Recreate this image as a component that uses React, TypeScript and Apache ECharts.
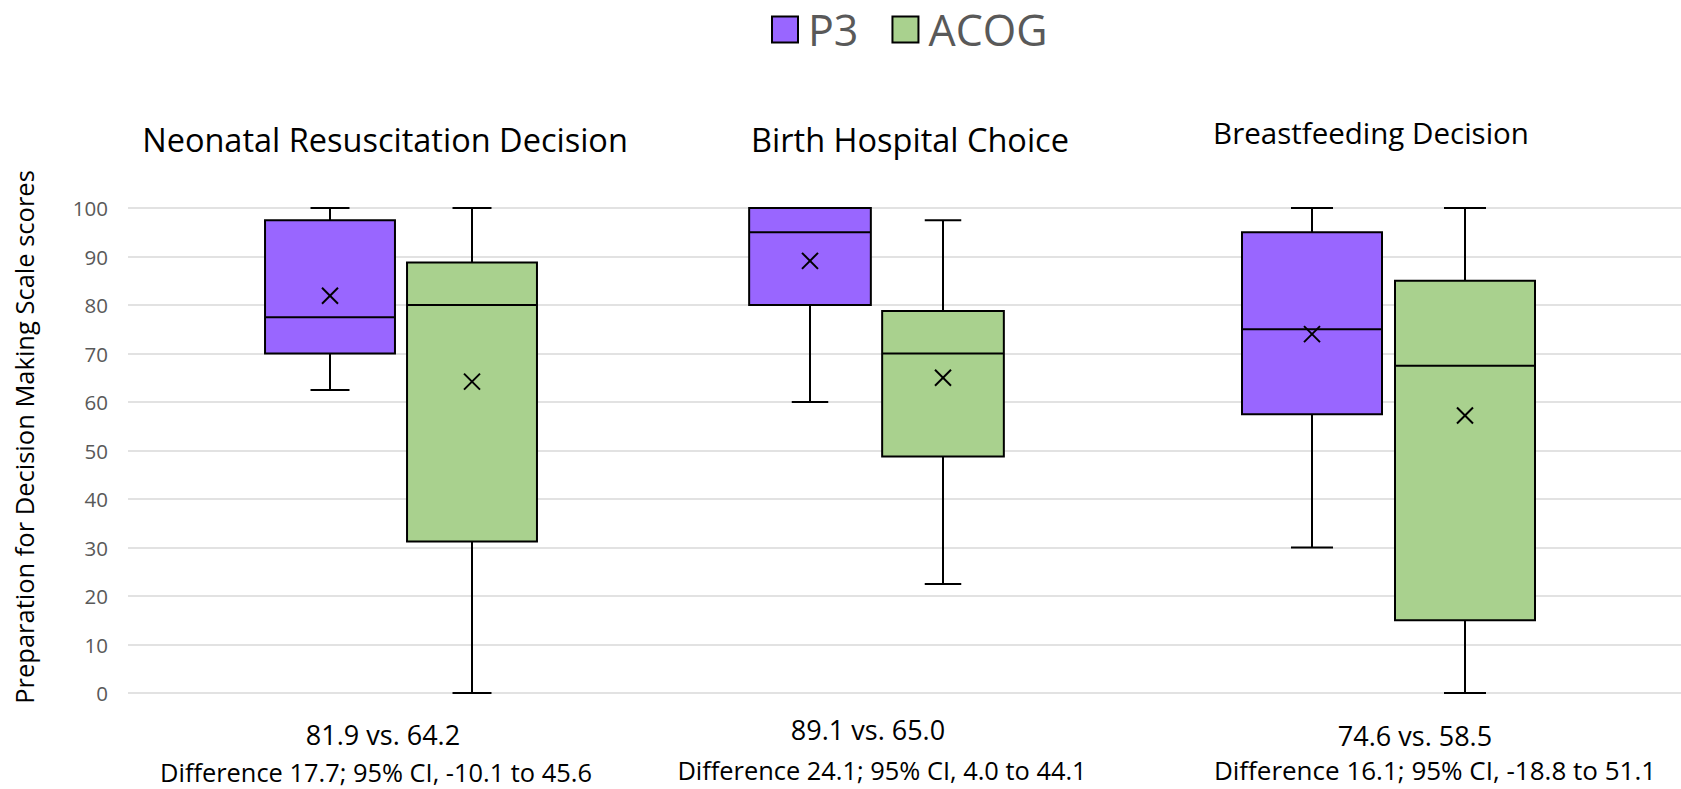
import React, { useEffect, useRef } from 'react';
import * as echarts from 'echarts';

// ---------- data ----------
const categories = ['Neonatal Resuscitation Decision', 'Birth Hospital Choice', 'Breastfeeding Decision'];
const seriesNames = ['P3', 'ACOG'];
// [low whisker, Q1, median, Q3, high whisker]
const p3Box = [
  [62.5, 70, 77.5, 97.5, 100],
  [60, 80, 95, 100, 100],
  [30, 57.5, 75, 95, 100],
];
const acogBox = [
  [0, 31.25, 80, 88.75, 100],
  [22.5, 48.75, 70, 78.75, 97.5],
  [0, 15, 67.5, 85, 100],
];
// mean markers as drawn
const p3MeanMarker = [81.9, 89.1, 74.0];
const acogMeanMarker = [64.2, 65.0, 57.2];
// reported statistics
const p3Mean = [81.9, 89.1, 74.6];
const acogMean = [64.2, 65.0, 58.5];
const difference = [17.7, 24.1, 16.1];
const ciLow = [-10.1, 4.0, -18.8];
const ciHigh = [45.6, 44.1, 51.1];
const yMin = 0;
const yMax = 100;
const yInterval = 10;
const yAxisTitle = 'Preparation for Decision Making Scale scores';

// ---------- style / layout ----------
const COLORS = ['#9966FF', '#A9D18E'];
const FONT = '"Open Sans", "Noto Sans", sans-serif';
const GRID_TOP = 208;
const GRID_BOTTOM = 96;
const groupGrids = [
  { left: 259, width: 284 },
  { left: 743.5, width: 266 },
  { left: 1235.5, width: 306 },
];
const titlePos = [[385, 139], [910, 139], [1371, 132]];
const titleSize = [32.5, 32.5, 29.5];
const line1Pos = [[383, 734], [868, 729], [1415, 735]];
const line2Pos = [[376, 772], [882, 770], [1435, 770]];
const line2Size = [25.4, 25.4, 26];
const BOX_RATIO = 0.915;
const CAP_RATIO = 0.3;
const MARK = 8;

function renderBox(params: any, api: any) {
  const x = api.value(0);
  const y = (i: number) => api.coord([x, api.value(i)])[1];
  const cx = api.coord([x, api.value(1)])[0];
  const yLow = y(1), yQ1 = y(2), yMed = y(3), yQ3 = y(4), yHigh = y(5), yMean = y(6);
  const band = api.size([1, 0])[0];
  const bw = band * BOX_RATIO;
  const cap = bw * CAP_RATIO;
  const color = api.visual('color');
  const ls = { stroke: '#000', lineWidth: 2 };
  return {
    type: 'group',
    children: [
      { type: 'line', shape: { x1: cx, y1: yHigh, x2: cx, y2: yQ3 }, style: ls },
      { type: 'line', shape: { x1: cx, y1: yQ1, x2: cx, y2: yLow }, style: ls },
      { type: 'line', shape: { x1: cx - cap / 2, y1: yHigh, x2: cx + cap / 2, y2: yHigh }, style: ls },
      { type: 'line', shape: { x1: cx - cap / 2, y1: yLow, x2: cx + cap / 2, y2: yLow }, style: ls },
      {
        type: 'rect',
        shape: { x: cx - bw / 2, y: yQ3, width: bw, height: yQ1 - yQ3 },
        style: { fill: color, stroke: '#000', lineWidth: 2 },
      },
      { type: 'line', shape: { x1: cx - bw / 2, y1: yMed, x2: cx + bw / 2, y2: yMed }, style: ls },
      { type: 'line', shape: { x1: cx - MARK, y1: yMean - MARK, x2: cx + MARK, y2: yMean + MARK }, style: ls },
      { type: 'line', shape: { x1: cx - MARK, y1: yMean + MARK, x2: cx + MARK, y2: yMean - MARK }, style: ls },
    ],
  };
}

function textEl(text: string, x: number, y: number, size: number, color = '#000', rotation = 0) {
  return {
    type: 'text',
    x,
    y,
    rotation,
    style: {
      text,
      fill: color,
      fontSize: size,
      fontFamily: FONT,
      textAlign: 'center',
      textVerticalAlign: 'middle',
      align: 'center',
      verticalAlign: 'middle',
    },
  };
}

export default function App() {
  const ref = useRef<HTMLDivElement>(null);

  useEffect(() => {
    if (!ref.current) return;
    const chart = echarts.init(ref.current, undefined, { renderer: 'svg' });

    const grids: any[] = [{ left: 128, right: 0, top: GRID_TOP, bottom: GRID_BOTTOM }];
    const xAxes: any[] = [{ type: 'value', gridIndex: 0, show: false, min: 0, max: 1 }];
    const yAxes: any[] = [
      {
        type: 'value',
        gridIndex: 0,
        min: yMin,
        max: yMax,
        interval: yInterval,
        axisLine: { show: false },
        axisTick: { show: false },
        axisLabel: { color: '#595959', fontSize: 20.5, fontFamily: FONT, margin: 20 },
        splitLine: { lineStyle: { color: '#d9d9d9', width: 1.5 } },
      },
    ];
    const series: any[] = [];
    const graphics: any[] = [];

    categories.forEach((cat, g) => {
      grids.push({ left: groupGrids[g].left, width: groupGrids[g].width, top: GRID_TOP, bottom: GRID_BOTTOM });
      xAxes.push({ type: 'category', gridIndex: g + 1, data: seriesNames, show: false });
      yAxes.push({ type: 'value', gridIndex: g + 1, min: yMin, max: yMax, show: false });
      const boxes = [p3Box[g], acogBox[g]];
      const marks = [p3MeanMarker[g], acogMeanMarker[g]];
      seriesNames.forEach((name, s) => {
        series.push({
          type: 'custom',
          name,
          xAxisIndex: g + 1,
          yAxisIndex: g + 1,
          itemStyle: { color: COLORS[s] },
          encode: { x: 0, y: [1, 2, 3, 4, 5, 6] },
          data: [[s, ...boxes[s], marks[s]]],
          renderItem: renderBox,
        });
      });
      graphics.push(textEl(cat, titlePos[g][0], titlePos[g][1], titleSize[g]));
      graphics.push(
        textEl(`${p3Mean[g].toFixed(1)} vs. ${acogMean[g].toFixed(1)}`, line1Pos[g][0], line1Pos[g][1], 27)
      );
      graphics.push(
        textEl(
          `Difference ${difference[g].toFixed(1)}; 95% CI, ${ciLow[g].toFixed(1)} to ${ciHigh[g].toFixed(1)}`,
          line2Pos[g][0],
          line2Pos[g][1],
          line2Size[g]
        )
      );
    });
    graphics.push(textEl(yAxisTitle, 24, 437, 25.5, '#000', Math.PI / 2));

    chart.setOption({
      animation: false,
      backgroundColor: '#fff',
      legend: {
        left: 766,
        top: 3,
        itemWidth: 26,
        itemHeight: 26,
        itemGap: 33,
        icon: 'rect',
        data: seriesNames,
        itemStyle: { borderColor: '#000', borderWidth: 2 },
        textStyle: { color: '#595959', fontSize: 43, fontFamily: FONT, padding: [0, 0, 0, 5] },
      },
      grid: grids,
      xAxis: xAxes,
      yAxis: yAxes,
      series,
      graphic: graphics,
    });

    return () => chart.dispose();
  }, []);

  return (
    <div
      ref={ref}
      style={{ position: 'fixed', left: 0, top: 0, width: '100vw', height: '100vh', background: '#fff' }}
    />
  );
}
